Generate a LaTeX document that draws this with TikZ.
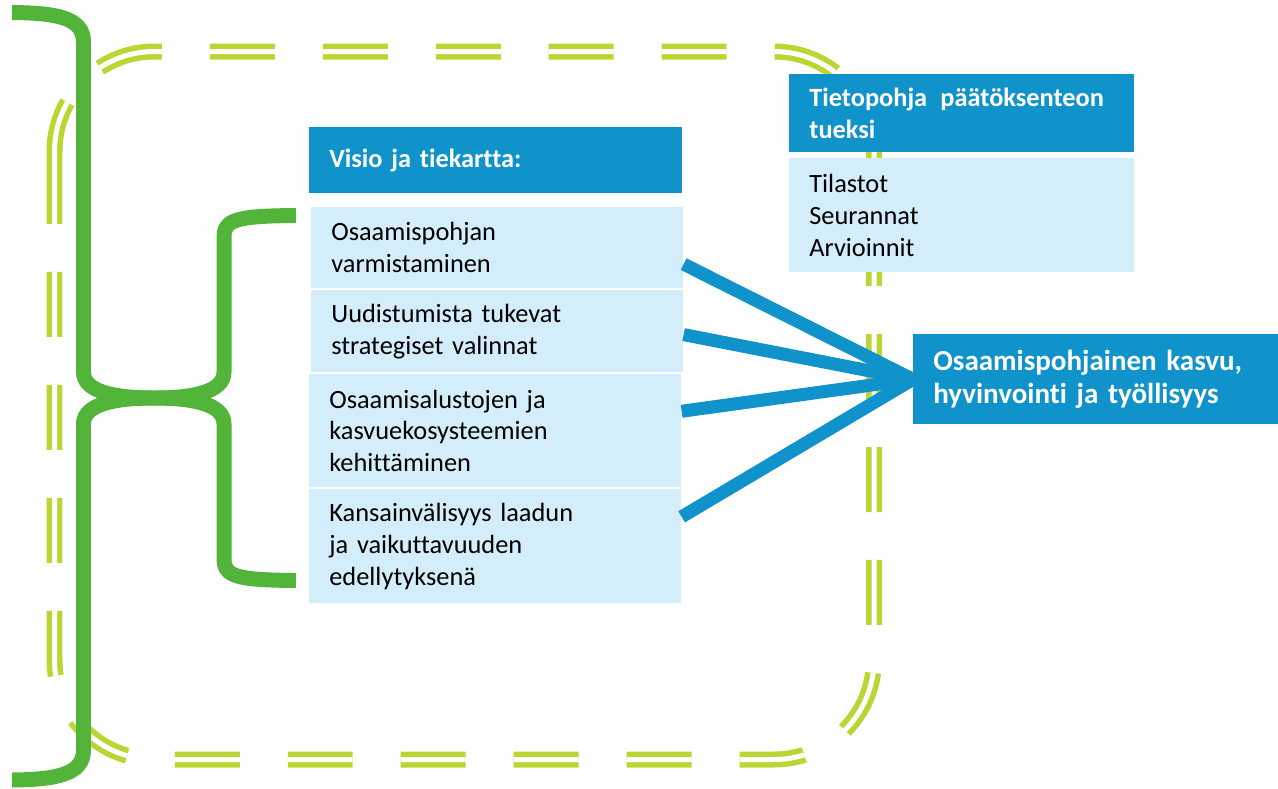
\documentclass[tikz,border=0pt]{standalone}
\usepackage{fontspec}
\setmainfont{Carlito}[Ligatures=NoCommon]
\definecolor{vtblue}{RGB}{16,146,203}
\definecolor{vtlight}{RGB}{212,237,250}
\definecolor{vtgreen}{RGB}{82,181,58}
\definecolor{vtlime}{RGB}{187,214,50}
\tikzset{
	frame/.style={draw=vtlime, double=white, line width=0.11cm, double distance=0.1cm, rounded corners=2cm, dash pattern=on 1.3cm off 0.96cm},
	brace/.style={draw=vtgreen, line width=0.3cm},
	link/.style={draw=vtblue, line width=0.26cm},
	headbox/.style={anchor=north west, fill=vtblue, text=white, font=\fontsize{15}{18.1}\selectfont\bfseries, align=left, inner xsep=0.4cm, inner ysep=0pt},
	itembox/.style={anchor=north west, fill=vtlight, text=black, font=\fontsize{15}{18.1}\selectfont, align=left, inner xsep=0.4cm, inner ysep=0pt},
	resultbox/.style={anchor=north west, fill=vtblue, text=white, font=\fontsize{16.5}{18.8}\selectfont\bfseries, align=left, inner xsep=0.4cm, inner ysep=0pt}
}
\begin{document}
\begin{tikzpicture}[x=0.02cm,y=-0.02cm]
		
		\useasboundingbox (0,0) rectangle (1278,788);
		
		\draw[frame] (54.5,159) -- (54.5,759.5) -- (874,759.5) -- (874,51.5) -- (54.5,51.5) -- (54.5,159);
		
		\draw[brace] (12,12.5) .. controls (55,13) and (83.5,17) .. (83.5,42) -- (83.5,372) .. controls (83.5,392) and (115,398) .. (154,398) .. controls (193,398) and (224,392) .. (224,372) -- (224,238) .. controls (224,220) and (234,216) .. (296,215.5);
		\draw[brace] (12,780) .. controls (55,779.5) and (83.5,775) .. (83.5,750) -- (83.5,424) .. controls (83.5,404) and (115,398) .. (154,398) .. controls (193,398) and (224,404) .. (224,424) -- (224,558) .. controls (224,576) and (234,580) .. (296,580.5);
		
		\node[headbox, text width=6.66cm, minimum height=1.32cm] (visio) at (309,127) {Visio ja tiekartta:};
		\node[itembox, text width=6.64cm, minimum height=1.62cm] (osaam) at (311,207) {Osaamispohjan\\varmistaminen};
		\node[itembox, text width=6.64cm, minimum height=1.64cm] (uudist) at (311,290) {Uudistumista tukevat\\strategiset valinnat};
		\node[itembox, text width=6.64cm, minimum height=2.26cm] (alusta) at (309,374) {Osaamisalustojen ja\\kasvuekosysteemien\\kehittäminen};
		\node[itembox, text width=6.64cm, minimum height=2.28cm] (kansain) at (309,489) {Kansainvälisyys laadun\\ja vaikuttavuuden\\edellytyksenä};
		
		\node[headbox, text width=6.1cm, minimum height=1.56cm] (tieto) at (789,74) {Tietopohja~\,päätöksenteon\\tueksi};
		\node[itembox, text width=6.1cm, minimum height=2.28cm] (tilasto) at (789,158) {Tilastot\\Seurannat\\Arvioinnit};
		
		\node[resultbox, text width=6.5cm, minimum height=1.8cm] (tulos) at (913,334) {Osaamispohjainen kasvu,\\hyvinvointi ja työllisyys};
		
		\draw[link] (osaam.-5.4) -- (tulos.west);
		\draw[link] (uudist.-1.8) -- (tulos.west);
		\draw[link] (alusta.6.9) -- (tulos.west);
		\draw[link] (kansain.9.5) -- (tulos.west);
		
	\end{tikzpicture}
\end{document}
